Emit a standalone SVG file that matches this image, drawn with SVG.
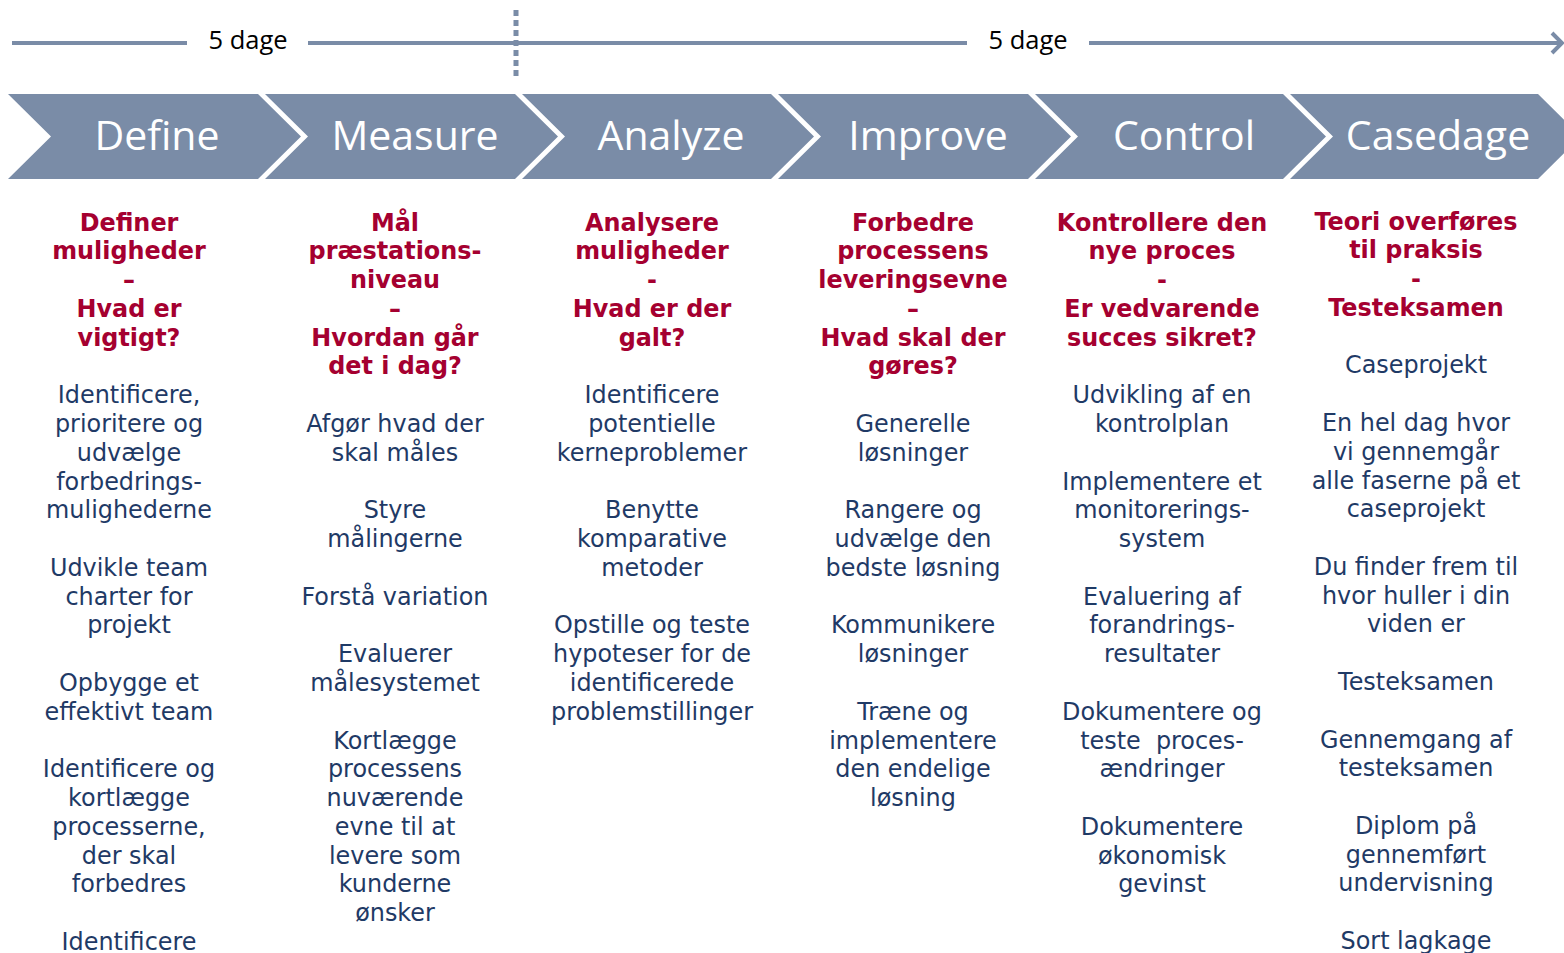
<svg xmlns="http://www.w3.org/2000/svg" width="1564" height="953" viewBox="0 0 1564 953">
<style>
.chev{fill:#7A8CA7}
.cl{font-family:"Open Sans","Liberation Sans",sans-serif;font-size:41px;fill:#ffffff;text-anchor:middle}
.days{font-family:"Open Sans","Liberation Sans",sans-serif;font-size:25.5px;fill:#000000;text-anchor:middle}
.h{font-family:"DejaVu Sans",Verdana,sans-serif;font-size:23.9px;font-weight:bold;fill:#A50030;text-anchor:middle}
.b{font-family:"DejaVu Sans",Verdana,sans-serif;font-size:23.9px;fill:#1F3A66;text-anchor:middle}
.tl{stroke:#7A8CA7;stroke-width:4;fill:none}
</style>
<rect width="1564" height="953" fill="#ffffff"/>
<g id="connectors">
<line class="tl" x1="12" y1="43" x2="187" y2="43"/>
<line class="tl" x1="308" y1="43" x2="967" y2="43"/>
<line class="tl" x1="1089" y1="43" x2="1561" y2="43"/>
<polyline class="tl" points="1552,33 1562,43 1552,53" stroke-width="3"/>
<line x1="516" y1="10" x2="516" y2="76" stroke="#7A8CA7" stroke-width="5" stroke-dasharray="6 4"/>
<text class="days" x="248" y="49">5 dage</text>
<text class="days" x="1028" y="49">5 dage</text>
</g>
<g id="define">
<polygon class="chev" points="8,94 258,94 301,136.5 258,179 8,179 51,136.5"/>
<text class="cl" x="157" y="150">Define</text>
<text class="h" x="129" y="230.5"><tspan x="129">Definer</tspan><tspan x="129" dy="28.78">muligheder</tspan><tspan x="129" dy="28.78">–</tspan><tspan x="129" dy="28.78">Hvad er</tspan><tspan x="129" dy="28.78">vigtigt?</tspan></text>
<text class="b" x="129" y="403.2"><tspan x="129">Identificere,</tspan><tspan x="129" dy="28.78">prioritere og</tspan><tspan x="129" dy="28.78">udvælge</tspan><tspan x="129" dy="28.78">forbedrings-</tspan><tspan x="129" dy="28.78">mulighederne</tspan><tspan x="129" dy="57.56">Udvikle team</tspan><tspan x="129" dy="28.78">charter for</tspan><tspan x="129" dy="28.78">projekt</tspan><tspan x="129" dy="57.56">Opbygge et</tspan><tspan x="129" dy="28.78">effektivt team</tspan><tspan x="129" dy="57.56">Identificere og</tspan><tspan x="129" dy="28.78">kortlægge</tspan><tspan x="129" dy="28.78">processerne,</tspan><tspan x="129" dy="28.78">der skal</tspan><tspan x="129" dy="28.78">forbedres</tspan><tspan x="129" dy="57.56">Identificere</tspan></text>
</g>
<g id="measure">
<polygon class="chev" points="265,94 515,94 558,136.5 515,179 265,179 308,136.5"/>
<text class="cl" x="415" y="150">Measure</text>
<text class="h" x="395" y="230.5"><tspan x="395">Mål</tspan><tspan x="395" dy="28.78">præstations-</tspan><tspan x="395" dy="28.78">niveau</tspan><tspan x="395" dy="28.78">–</tspan><tspan x="395" dy="28.78">Hvordan går</tspan><tspan x="395" dy="28.78">det i dag?</tspan></text>
<text class="b" x="395" y="432"><tspan x="395">Afgør hvad der</tspan><tspan x="395" dy="28.78">skal måles</tspan><tspan x="395" dy="57.56">Styre</tspan><tspan x="395" dy="28.78">målingerne</tspan><tspan x="395" dy="57.56">Forstå variation</tspan><tspan x="395" dy="57.56">Evaluerer</tspan><tspan x="395" dy="28.78">målesystemet</tspan><tspan x="395" dy="57.56">Kortlægge</tspan><tspan x="395" dy="28.78">processens</tspan><tspan x="395" dy="28.78">nuværende</tspan><tspan x="395" dy="28.78">evne til at</tspan><tspan x="395" dy="28.78">levere som</tspan><tspan x="395" dy="28.78">kunderne</tspan><tspan x="395" dy="28.78">ønsker</tspan></text>
</g>
<g id="analyze">
<polygon class="chev" points="522,94 771,94 814,136.5 771,179 522,179 565,136.5"/>
<text class="cl" x="671" y="150">Analyze</text>
<text class="h" x="652" y="230.5"><tspan x="652">Analysere</tspan><tspan x="652" dy="28.78">muligheder</tspan><tspan x="652" dy="28.78">-</tspan><tspan x="652" dy="28.78">Hvad er der</tspan><tspan x="652" dy="28.78">galt?</tspan></text>
<text class="b" x="652" y="403.2"><tspan x="652">Identificere</tspan><tspan x="652" dy="28.78">potentielle</tspan><tspan x="652" dy="28.78">kerneproblemer</tspan><tspan x="652" dy="57.56">Benytte</tspan><tspan x="652" dy="28.78">komparative</tspan><tspan x="652" dy="28.78">metoder</tspan><tspan x="652" dy="57.56">Opstille og teste</tspan><tspan x="652" dy="28.78">hypoteser for de</tspan><tspan x="652" dy="28.78">identificerede</tspan><tspan x="652" dy="28.78">problemstillinger</tspan></text>
</g>
<g id="improve">
<polygon class="chev" points="778,94 1028,94 1071,136.5 1028,179 778,179 821,136.5"/>
<text class="cl" x="928" y="150">Improve</text>
<text class="h" x="913" y="230.5"><tspan x="913">Forbedre</tspan><tspan x="913" dy="28.78">processens</tspan><tspan x="913" dy="28.78">leveringsevne</tspan><tspan x="913" dy="28.78">–</tspan><tspan x="913" dy="28.78">Hvad skal der</tspan><tspan x="913" dy="28.78">gøres?</tspan></text>
<text class="b" x="913" y="432"><tspan x="913">Generelle</tspan><tspan x="913" dy="28.78">løsninger</tspan><tspan x="913" dy="57.56">Rangere og</tspan><tspan x="913" dy="28.78">udvælge den</tspan><tspan x="913" dy="28.78">bedste løsning</tspan><tspan x="913" dy="57.56">Kommunikere</tspan><tspan x="913" dy="28.78">løsninger</tspan><tspan x="913" dy="57.56">Træne og</tspan><tspan x="913" dy="28.78">implementere</tspan><tspan x="913" dy="28.78">den endelige</tspan><tspan x="913" dy="28.78">løsning</tspan></text>
</g>
<g id="control">
<polygon class="chev" points="1035,94 1283,94 1326,136.5 1283,179 1035,179 1078,136.5"/>
<text class="cl" x="1184" y="150">Control</text>
<text class="h" x="1162" y="230.5"><tspan x="1162">Kontrollere den</tspan><tspan x="1162" dy="28.78">nye proces</tspan><tspan x="1162" dy="28.78">-</tspan><tspan x="1162" dy="28.78">Er vedvarende</tspan><tspan x="1162" dy="28.78">succes sikret?</tspan></text>
<text class="b" x="1162" y="403.2" xml:space="preserve"><tspan x="1162">Udvikling af en</tspan><tspan x="1162" dy="28.78">kontrolplan</tspan><tspan x="1162" dy="57.56">Implementere et</tspan><tspan x="1162" dy="28.78">monitorerings-</tspan><tspan x="1162" dy="28.78">system</tspan><tspan x="1162" dy="57.56">Evaluering af</tspan><tspan x="1162" dy="28.78">forandrings-</tspan><tspan x="1162" dy="28.78">resultater</tspan><tspan x="1162" dy="57.56">Dokumentere og</tspan><tspan x="1162" dy="28.78">teste  proces-</tspan><tspan x="1162" dy="28.78">ændringer</tspan><tspan x="1162" dy="57.56">Dokumentere</tspan><tspan x="1162" dy="28.78">økonomisk</tspan><tspan x="1162" dy="28.78">gevinst</tspan></text>
</g>
<g id="casedage">
<polygon class="chev" points="1290,94 1538,94 1581,136.5 1538,179 1290,179 1333,136.5"/>
<text class="cl" x="1438" y="150">Casedage</text>
<text class="h" x="1416" y="229.5"><tspan x="1416">Teori overføres</tspan><tspan x="1416" dy="28.78">til praksis</tspan><tspan x="1416" dy="28.78">-</tspan><tspan x="1416" dy="28.78">Testeksamen</tspan></text>
<text class="b" x="1416" y="373.4"><tspan x="1416">Caseprojekt</tspan><tspan x="1416" dy="57.56">En hel dag hvor</tspan><tspan x="1416" dy="28.78">vi gennemgår</tspan><tspan x="1416" dy="28.78">alle faserne på et</tspan><tspan x="1416" dy="28.78">caseprojekt</tspan><tspan x="1416" dy="57.56">Du finder frem til</tspan><tspan x="1416" dy="28.78">hvor huller i din</tspan><tspan x="1416" dy="28.78">viden er</tspan><tspan x="1416" dy="57.56">Testeksamen</tspan><tspan x="1416" dy="57.56">Gennemgang af</tspan><tspan x="1416" dy="28.78">testeksamen</tspan><tspan x="1416" dy="57.56">Diplom på</tspan><tspan x="1416" dy="28.78">gennemført</tspan><tspan x="1416" dy="28.78">undervisning</tspan><tspan x="1416" dy="57.56">Sort lagkage</tspan></text>
</g>
</svg>
